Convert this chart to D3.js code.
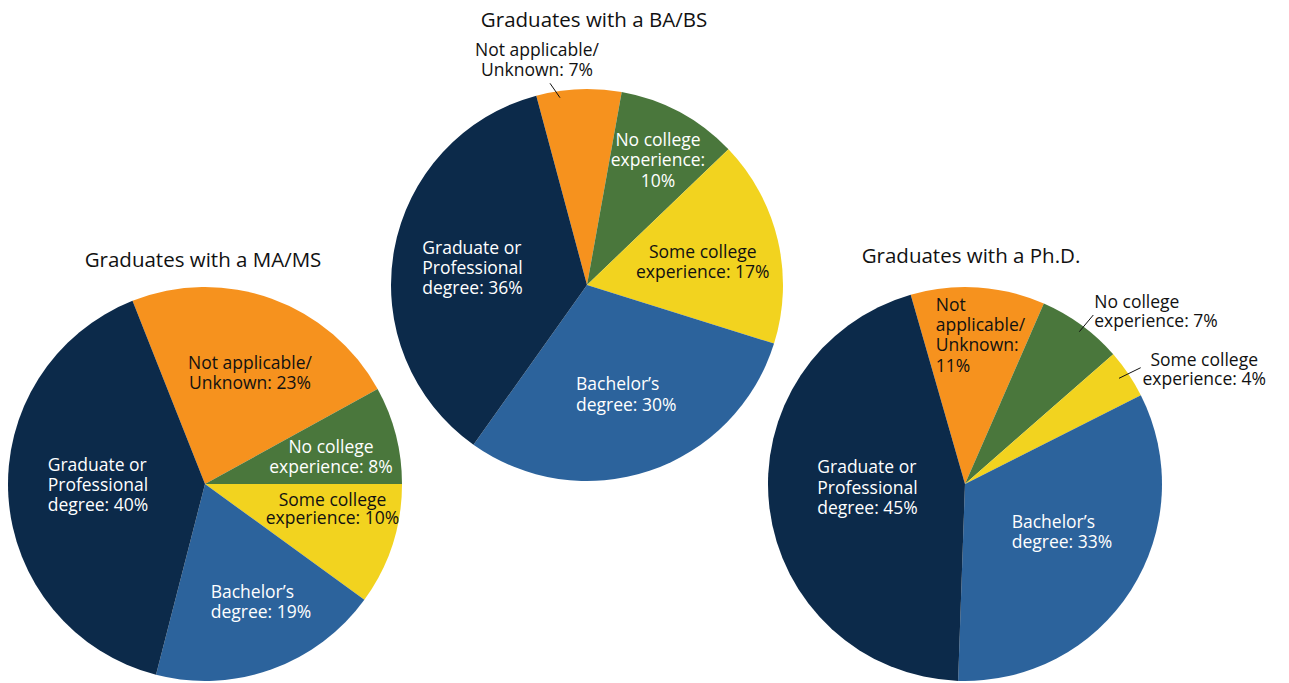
<!DOCTYPE html>
<html>
<head>
<meta charset="utf-8">
<script src="https://cdn.jsdelivr.net/npm/d3@7"></script>
<style>
  html, body { margin: 0; padding: 0; background: #fff; }
  svg text { font-family: "Open Sans", "Noto Sans", sans-serif; }
  .title { font-size: 20.5px; fill: #111; }
  .slice-label { font-size: 17.5px; }
</style>
</head>
<body>
<div id="chart"></div>
<script>
// data
const categories = ["Not applicable/Unknown", "No college experience", "Some college experience", "Bachelor's degree", "Graduate or Professional degree"];
const maValues = [23, 8, 10, 19, 40];
const baValues = [7, 10, 17, 30, 36];
const phdValues = [11, 7, 4, 33, 45];
const titles = ["Graduates with a MA/MS", "Graduates with a BA/BS", "Graduates with a Ph.D."];
const maLabels = [["Not applicable/", "Unknown: 23%"], ["No college", "experience: 8%"], ["Some college", "experience: 10%"], ["Bachelor\u2019s", "degree: 19%"], ["Graduate or", "Professional", "degree: 40%"]];
const baLabels = [["Not applicable/", "Unknown: 7%"], ["No college", "experience:", "10%"], ["Some college", "experience: 17%"], ["Bachelor\u2019s", "degree: 30%"], ["Graduate or", "Professional", "degree: 36%"]];
const phdLabels = [["Not", "applicable/", "Unknown:", "11%"], ["No college", "experience: 7%"], ["Some college", "experience: 4%"], ["Bachelor\u2019s", "degree: 33%"], ["Graduate or", "Professional", "degree: 45%"]];

const colors = ["#f6921e", "#4a773c", "#f2d31f", "#2c639c", "#0c2a4a"];
const textColors = ["#111", "#fff", "#111", "#fff", "#fff"];

// layout (relative to each pie centre)
const pies = [
  { values: maValues, labels: maLabels, title: titles[0], cx: 205, cy: 484, r: 197, start: -21.6,
    titlePos: [-2, -217],
    labelPos: [
      { dx: 45, dy: -115, lh: 20, anchor: "middle" },
      { dx: 126, dy: -31, lh: 20, anchor: "middle" },
      { dx: 127.5, dy: 21.7, lh: 18.5, anchor: "middle" },
      { dx: 5.7, dy: 114.3, lh: 19.5, anchor: "start" },
      { dx: -157.3, dy: -13, lh: 20, anchor: "start" }
    ], leaders: [] },
  { values: baValues, labels: baLabels, title: titles[1], cx: 587, cy: 285, r: 196, start: -15,
    titlePos: [7, -258],
    labelPos: [
      { dx: -50, dy: -229, lh: 20, anchor: "middle", outside: true },
      { dx: 71, dy: -139, lh: 20.3, anchor: "middle" },
      { dx: 115.8, dy: -27.3, lh: 20, anchor: "middle" },
      { dx: -11, dy: 105, lh: 20.5, anchor: "start" },
      { dx: -164.7, dy: -30.7, lh: 20, anchor: "start" }
    ], leaders: [[-37, -201.7, -27, -187.3]] },
  { values: phdValues, labels: phdLabels, title: titles[2], cx: 965, cy: 484, r: 197, start: -16,
    titlePos: [6, -221],
    labelPos: [
      { dx: -29.3, dy: -173.3, lh: 20.3, anchor: "start" },
      { dx: 129.3, dy: -175.7, lh: 19, anchor: "start", outside: true },
      { dx: 239.2, dy: -118, lh: 19, anchor: "middle", outside: true },
      { dx: 46.7, dy: 44.3, lh: 20, anchor: "start" },
      { dx: -147.7, dy: -10.7, lh: 20.5, anchor: "start" }
    ], leaders: [[128.3, -169, 114.3, -152.3], [175.7, -116.3, 154, -105.7]] }
];

const width = 1289, height = 683;
const svg = d3.select("#chart").append("svg")
  .attr("width", width)
  .attr("height", height);

const color = d3.scaleOrdinal().domain(categories).range(colors);
const textColor = d3.scaleOrdinal().domain(categories).range(textColors);

pies.forEach(function(p) {
  const g = svg.append("g").attr("transform", `translate(${p.cx},${p.cy})`);
  const a0 = p.start * Math.PI / 180;
  const pie = d3.pie().sort(null).value(d => d.v)
    .startAngle(a0).endAngle(a0 + Math.PI * 2);
  const arc = d3.arc().innerRadius(0).outerRadius(p.r);
  const rows = p.values.map((v, i) => ({ v: v, cat: categories[i], lines: p.labels[i], pos: p.labelPos[i] }));

  g.selectAll("path.slice")
    .data(pie(rows))
    .join("path")
    .attr("class", "slice")
    .attr("d", arc)
    .attr("fill", d => color(d.data.cat));

  g.append("text")
    .attr("class", "title")
    .attr("text-anchor", "middle")
    .attr("x", p.titlePos[0])
    .attr("y", p.titlePos[1])
    .text(p.title);

  g.selectAll("line.leader")
    .data(p.leaders)
    .join("line")
    .attr("class", "leader")
    .attr("x1", d => d[0]).attr("y1", d => d[1])
    .attr("x2", d => d[2]).attr("y2", d => d[3])
    .attr("stroke", "#111")
    .attr("stroke-width", 1);

  const labels = g.selectAll("text.slice-label")
    .data(rows)
    .join("text")
    .attr("class", "slice-label")
    .attr("text-anchor", d => d.pos.anchor)
    .attr("fill", d => d.pos.outside ? "#111" : textColor(d.cat));

  labels.selectAll("tspan")
    .data(d => d.lines.map((t, j) => ({ t: t, x: d.pos.dx, y: d.pos.dy + j * d.pos.lh })))
    .join("tspan")
    .attr("x", d => d.x)
    .attr("y", d => d.y)
    .text(d => d.t);
});
</script>
</body>
</html>
